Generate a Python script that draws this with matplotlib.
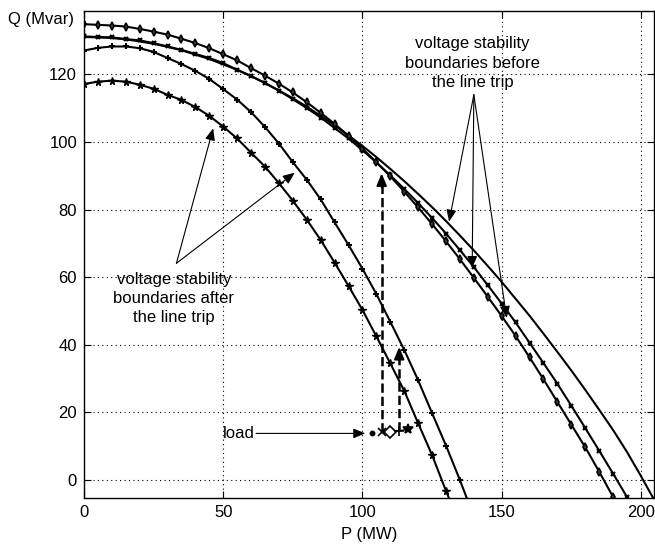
import matplotlib
matplotlib.use("Agg")
import matplotlib.pyplot as plt

plt.rcParams["font.family"] = ["Liberation Sans", "DejaVu Sans"]
plt.rcParams["font.size"] = 12

# boundaries before the line trip
P_DIAM = list(range(0, 195, 5))
Q_DIAM = [134.8, 134.6, 134.4, 134.1, 133.4, 132.6, 131.7, 130.5, 129.2, 127.7,
          125.9, 124.1, 121.8, 119.6, 117.2, 114.6, 111.7, 108.6, 105.3, 101.8,
          98.0, 94.0, 89.8, 85.3, 80.6, 75.7, 70.6, 65.3, 59.8, 54.2,
          48.5, 42.6, 36.3, 29.8, 23.1, 16.4, 9.7, 2.5, -5.0]
P_CROSS = list(range(0, 200, 5))
Q_CROSS = [131.2, 131.0, 130.9, 130.4, 130.0, 129.2, 128.2, 127.2, 126.0, 124.8,
           123.3, 121.3, 119.5, 117.4, 115.1, 112.6, 110.0, 107.2, 104.1, 101.0,
           97.5, 93.9, 90.1, 86.1, 81.9, 77.5, 72.9, 68.0, 63.0, 57.6,
           52.2, 46.6, 40.6, 34.6, 28.5, 22.0, 15.4, 8.7, 1.9, -5.0]
P_PLAIN = list(range(0, 210, 5))
Q_PLAIN = [131.0, 130.9, 130.7, 130.3, 129.7, 129.0, 128.1, 127.1, 125.8, 124.5,
           122.9, 121.3, 119.4, 117.4, 115.2, 112.9, 110.4, 107.7, 104.9, 101.9,
           98.8, 95.5, 92.0, 88.4, 84.6, 80.7, 76.6, 72.3, 67.9, 63.3,
           58.6, 53.6, 48.6, 43.3, 37.9, 32.4, 26.7, 20.8, 14.8, 8.3,
           1.2, -6.2]

# boundaries after the line trip
P_PLUS = list(range(0, 145, 5))
Q_PLUS = [127.0, 127.8, 128.2, 128.2, 127.7, 126.6, 124.8, 123.0, 121.0, 118.6,
          115.6, 112.5, 108.8, 104.4, 99.5, 94.0, 88.8, 83.0, 76.2, 69.5,
          62.5, 55.0, 46.8, 38.5, 29.5, 19.8, 10.2, 0.0, -10.8]
P_STAR = list(range(0, 140, 5))
Q_STAR = [117.1, 117.8, 118.1, 117.8, 116.9, 115.7, 113.9, 112.4, 110.3, 107.7,
          104.5, 101.0, 96.8, 92.7, 87.8, 82.6, 77.0, 71.0, 64.3, 57.4,
          50.3, 42.5, 34.5, 26.4, 16.8, 7.4, -3.2, -13.2]

# load operating points
LOAD_P = [103.3, 106.9, 109.8, 113.2, 116.4]
LOAD_Q = [13.8, 14.1, 14.3, 14.6, 15.0]
LOAD_MARKERS = [".", "x", "D", "+", "*"]

# dashed moves from load point to boundary
JUMP_P = [106.9, 113.2]
JUMP_Q0 = [14.1, 14.6]
JUMP_Q1 = [90.7, 39.4]

fig = plt.figure(figsize=(6.55, 5.46), dpi=100)
ax = fig.add_axes([0.1282, 0.0879, 0.8703, 0.892])

lw = 1.5
ax.plot(P_PLAIN, Q_PLAIN, color="k", lw=lw)
ax.plot(P_CROSS, Q_CROSS, color="k", lw=lw, marker="x", ms=3.5, mew=1.6)
ax.plot(P_DIAM, Q_DIAM, color="k", lw=lw, marker="d", ms=4, mfc="#444444", mew=1.2)
ax.plot(P_PLUS, Q_PLUS, color="k", lw=lw, marker="+", ms=5, mew=1.5)
ax.plot(P_STAR, Q_STAR, color="k", lw=lw, marker="*", ms=5.5)

ax.plot(LOAD_P[1:], LOAD_Q[1:], color="k", lw=1.0)
for p, q, m in zip(LOAD_P, LOAD_Q, LOAD_MARKERS):
  ms = {".": 6, "D": 6, "x": 6, "+": 7, "*": 7}[m]
  fc = "white" if m == "D" else "k"
  ax.plot(p, q, color="k", marker=m, ms=ms, mfc=fc, mew=1.2, ls="none")

head = "-|>,head_length=0.6,head_width=0.25"
for p, q0, q1 in zip(JUMP_P, JUMP_Q0, JUMP_Q1):
  ax.plot([p, p], [q0, q1 - 2], color="k", lw=1.8, ls="--")
  ax.annotate("", xy=(p, q1), xytext=(p, q1 - 4),
              arrowprops=dict(arrowstyle=head, color="k", lw=1.5,
                              shrinkA=0, shrinkB=0, mutation_scale=12))

thin = dict(arrowstyle=head, color="k", lw=0.8, shrinkA=0, shrinkB=0,
            mutation_scale=12)

ax.text(139.6, 123.3, "voltage stability\nboundaries before\nthe line trip",
        ha="center", va="center", linespacing=1.35)
for tip in [(131.1, 76.4), (139.4, 62.7), (151.8, 47.9)]:
  ax.annotate("", xy=tip, xytext=(140.0, 113.9), arrowprops=thin)

ax.text(32.3, 53.7, "voltage stability\nboundaries after\nthe line trip",
        ha="center", va="center", linespacing=1.35)
for tip in [(46.4, 104.0), (75.7, 90.9)]:
  ax.annotate("", xy=tip, xytext=(33.2, 64.1), arrowprops=thin)

ax.text(55.6, 13.8, "load", ha="center", va="center")
ax.annotate("", xy=(101.0, 13.8), xytext=(61.8, 13.8), arrowprops=thin)

ax.set_xlim(0, 204.7)
ax.set_ylim(-5.3, 138.7)
ax.set_xticks([0, 50, 100, 150, 200])
ax.set_yticks([0, 20, 40, 60, 80, 100, 120])
ax.grid(True, color="k", lw=0.8, ls=(0, (1, 3)))
ax.tick_params(direction="in", top=True, right=True, length=5, labelsize=12, pad=5)
for s in ax.spines.values():
  s.set_linewidth(1.0)
ax.set_xlabel("P (MW)", fontsize=12, labelpad=5)
ax.text(-0.017, 0.9815, "Q (Mvar)", transform=ax.transAxes, ha="right", va="center")

fig.savefig("out.png", dpi=100)
